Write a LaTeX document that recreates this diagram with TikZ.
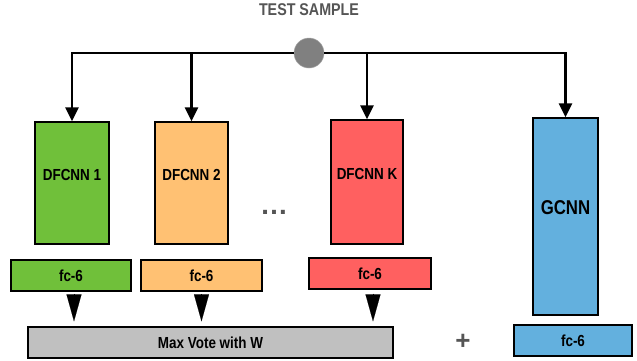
\documentclass[tikz,border=0pt]{standalone}
\usepackage{fontspec}
\setmainfont{Liberation Sans}
\newfontfamily\condfont[FakeStretch=0.84]{Liberation Sans}
\usetikzlibrary{arrows.meta}
\definecolor{cgreen}{HTML}{70C03A}
\definecolor{corange}{HTML}{FFC173}
\definecolor{cred}{HTML}{FF6060}
\definecolor{cblue}{HTML}{63B0DE}
\definecolor{cgray}{HTML}{C0C0C0}
\definecolor{cdot}{HTML}{808080}
\definecolor{ctitle}{HTML}{555555}
\begin{document}
\begin{tikzpicture}[x=1pt,y=-1pt,
  blk/.style={draw=black, line width=1.3pt, inner sep=0pt, rectangle},
  lbl/.style={font=\condfont\bfseries\fontsize{16}{18}\selectfont, text=black, inner sep=0pt},
  conn/.style={draw=black, line width=2.3pt, -{Triangle[width=13pt,length=14pt]}},
  tri/.style={draw=black, line width=0.1pt, -{Triangle[width=15pt,length=27pt]}, shorten <=4pt, shorten >=5pt}
]
\useasboundingbox (0,0) rectangle (637,360);

% title and source
\node[lbl, text=ctitle, font=\condfont\bfseries\fontsize{17}{19}\selectfont] (title) at (309,10) {TEST SAMPLE};
\node[circle, fill=cdot, draw=cdot!70, line width=0.5pt, minimum size=30pt, inner sep=0pt] (s) at (309,53) {};

% networks
\node[blk, fill=cgreen, minimum width=74pt, minimum height=122pt] (d1) at (72,183) {};
\node[blk, fill=corange, minimum width=73pt, minimum height=122pt] (d2) at (191.5,183) {};
\node[blk, fill=cred, minimum width=72pt, minimum height=124pt] (dk) at (367,182) {};
\node[blk, fill=cblue, minimum width=65pt, minimum height=197pt] (g) at (565.5,216.5) {};

\node[lbl] (t1) at ([yshift=8pt]d1.center) {DFCNN 1};
\node[lbl] (t2) at ([yshift=8pt]d2.center) {DFCNN 2};
\node[lbl] (tk) at ([yshift=8pt]dk.center) {DFCNN K};
\node[lbl, font=\condfont\bfseries\fontsize{20}{22}\selectfont] (tg) at ([yshift=8.5pt]g.center) {GCNN};
\node[lbl, text=ctitle, font=\bfseries\fontsize{28}{30}\selectfont] (dots) at (274,212) {…};

% fc-6 layers
\node[blk, fill=cgreen, minimum width=120pt, minimum height=31pt, font=\condfont\bfseries\fontsize{16}{18}\selectfont] (f1) at (71,275.5) {fc-6};
\node[blk, fill=corange, minimum width=121pt, minimum height=31pt, font=\condfont\bfseries\fontsize{16}{18}\selectfont] (f2) at (201.5,275.5) {fc-6};
\node[blk, fill=cred, minimum width=122pt, minimum height=31pt, font=\condfont\bfseries\fontsize{16}{18}\selectfont] (fk) at (370,273.5) {fc-6};
\node[blk, fill=cblue, minimum width=118pt, minimum height=31pt, font=\condfont\bfseries\fontsize{16}{18}\selectfont] (fg) at (573,340.5) {fc-6};

% vote
\node[blk, fill=cgray, minimum width=365pt, minimum height=31pt, font=\condfont\bfseries\fontsize{16}{18}\selectfont] (mv) at (210.5,342.5) {Max Vote with W};
\node[lbl, text=ctitle, font=\bfseries\fontsize{26}{28}\selectfont] (plus) at (463,342) {+};

% connectors
\draw[conn] (s.west) -| (d1.north);
\draw[conn] (s.west) -| (d2.north);
\draw[conn] (s.east) -| (dk.north);
\draw[conn] (s.east) -| (g.north);

\draw[tri] ([xshift=3pt]f1.south) -- ([xshift=3pt]f1.south |- mv.north);
\draw[tri] (f2.south) -- (f2.south |- mv.north);
\draw[tri] ([xshift=3pt]fk.south) -- ([xshift=3pt]fk.south |- mv.north);
\end{tikzpicture}
\end{document}
